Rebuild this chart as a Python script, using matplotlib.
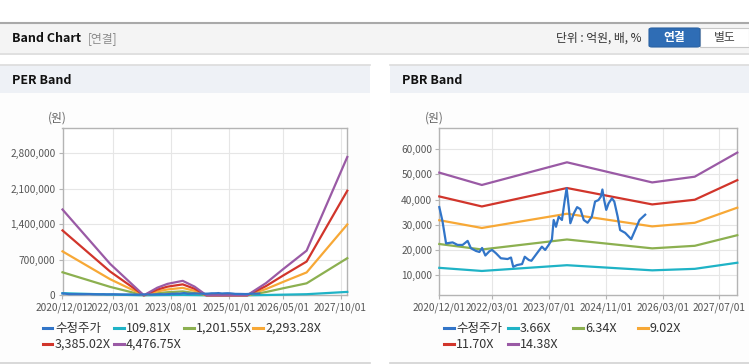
import matplotlib
matplotlib.use("Agg")
import matplotlib.pyplot as plt
import matplotlib.dates as mdates
from matplotlib.patches import Rectangle, FancyBboxPatch
from matplotlib.lines import Line2D
from matplotlib.ticker import FuncFormatter
import pandas as pd

plt.rcParams["font.family"] = ["Noto Sans CJK KR", "DejaVu Sans"]

W, H = 749, 364

# ---- data ----
price_dates = [
    "2020-12-01", "2020-12-28", "2021-01-28", "2021-03-25", "2021-05-07", "2021-06-19",
    "2021-08-01", "2021-08-29", "2021-10-12", "2021-11-10", "2021-12-03", "2021-12-31",
    "2022-02-04", "2022-02-27", "2022-04-01", "2022-05-13", "2022-07-10", "2022-08-08",
    "2022-08-27", "2022-09-28", "2022-11-11", "2022-12-04", "2023-01-08", "2023-01-30",
    "2023-03-18", "2023-04-30", "2023-05-28", "2023-06-27", "2023-07-25", "2023-08-09",
    "2023-08-29", "2023-09-21", "2023-10-19", "2023-11-12", "2023-11-28", "2023-12-16",
    "2023-12-30", "2024-01-29", "2024-02-26", "2024-03-25", "2024-04-23", "2024-05-26",
    "2024-07-01", "2024-07-29", "2024-08-27", "2024-09-17", "2024-09-30", "2024-10-15",
    "2024-11-02", "2024-11-22", "2024-12-21", "2025-01-10", "2025-02-08", "2025-03-01",
    "2025-04-13", "2025-06-04", "2025-07-08", "2025-08-14", "2025-10-02",
]
price = [
    37000, 31500, 22600, 23000, 22000, 22000,
    23600, 20700, 19600, 19200, 20800, 17800,
    19500, 20000, 18700, 16700, 16400, 17000,
    13300, 14000, 14400, 17300, 16000, 15700,
    18650, 21300, 20000, 22000, 24200, 31900,
    29200, 33200, 31900, 39800, 44500, 37200,
    30600, 34500, 37000, 36200, 31900, 30800,
    33200, 39200, 39800, 41200, 44000, 39800,
    35900, 38500, 40500, 39200, 33200, 27900,
    26800, 24300, 27900, 31900, 34000,
]

per_dates = ["2020-12-01", "2022-02-01", "2022-12-01", "2023-04-01", "2023-07-01",
             "2023-11-15", "2024-03-01", "2024-06-15", "2025-06-15", "2025-12-01",
             "2026-05-01", "2026-12-01", "2027-06-01", "2027-12-01"]
per_109 = [41500, 15200, 0, 3700, 5500, 7000, 4200, 0, 0, 5900, 12500, 21600, 44200, 66800]
per_1201 = [453600, 166400, 0, 40300, 60400, 76500, 45700, 0, 0, 64400, 136900, 236200,
            483100, 731400]
per_2293 = [865700, 317600, 0, 76800, 115400, 146100, 87100, 0, 0, 122900, 261200, 450900,
            922100, 1395900]
per_3385 = [1277800, 468800, 0, 113400, 170300, 215600, 128600, 0, 0, 181400, 385600,
            665500, 1361100, 2060400]
per_4476 = [1690000, 620000, 0, 150000, 225000, 285000, 170000, 0, 0, 240000, 510000,
            880000, 1800000, 2725000]
per_labels = ["수정주가", "109.81X", "1,201.55X", "2,293.28X", "3,385.02X", "4,476.75X"]
per_ticks = ["2020-12-01", "2022-03-01", "2023-08-01", "2025-01-01", "2026-05-01", "2027-10-01"]

pbr_dates = ["2020-12-01", "2021-12-01", "2023-12-01", "2025-12-01", "2026-12-01", "2027-12-01"]
pbr_366 = [12900, 11660, 13950, 11910, 12500, 14930]
pbr_634 = [22360, 20190, 24160, 20640, 21650, 25860]
pbr_902 = [31810, 28730, 34380, 29360, 30790, 36790]
pbr_1170 = [41250, 37270, 44590, 38080, 39940, 47720]
pbr_1438 = [50700, 45800, 54800, 46810, 49090, 58660]
pbr_labels = ["수정주가", "3.66X", "6.34X", "9.02X", "11.70X", "14.38X"]
pbr_ticks = ["2020-12-01", "2022-03-01", "2023-07-01", "2024-11-01", "2026-03-01", "2027-07-01"]

colors = ["#3275c8", "#1fb3c6", "#8cb050", "#f7a836", "#d1352b", "#9a5aa5"]


def fx(x):
    return x / W


def fy(y):
    return 1 - y / H


fig = plt.figure(figsize=(W / 100, H / 100), dpi=100)
fig.patch.set_facecolor("white")


def rect(x0, y0, x1, y1, **kw):
    fig.patches.append(Rectangle((fx(x0), fy(y1)), fx(x1 - x0), (y1 - y0) / H,
                                 transform=fig.transFigure, zorder=-10, **kw))


def hline(x0, x1, y, color, lw=1.0):
    fig.add_artist(Line2D([fx(x0), fx(x1)], [fy(y), fy(y)], color=color, lw=lw,
                          transform=fig.transFigure, zorder=-5))


# ---- header bar ----
rect(0, 22, W, 53, fc="#f4f4f4", ec="none")
hline(0, W, 22.5, "#a9a9a9", 1.5)
hline(0, W, 53.5, "#dadada", 1.2)
fig.text(fx(11.5), fy(38.5), "Band Chart", fontsize=9, fontweight="bold", color="#111",
         va="center", ha="left")
fig.text(fx(88), fy(38.5), "[연결]", fontsize=8.5, color="#8a8a8a", va="center", ha="left")
fig.text(fx(642), fy(38.5), "단위 : 억원, 배, %", fontsize=8.5, color="#333", va="center",
         ha="right")
fig.patches.append(FancyBboxPatch((fx(700), fy(47)), fx(49), 19 / H,
                                  boxstyle="square,pad=0", transform=fig.transFigure,
                                  fc="white", ec="#c8c8c8", lw=0.8, zorder=-4))
fig.patches.append(FancyBboxPatch((fx(649), fy(47)), fx(51), 19 / H,
                                  boxstyle="round,pad=0,rounding_size=0.004",
                                  transform=fig.transFigure, fc="#2f6db5", ec="#2a62a3",
                                  lw=0.8, zorder=-3))
fig.text(fx(674.5), fy(37.8), "연결", fontsize=8.5, fontweight="bold", color="white",
         va="center", ha="center")
fig.text(fx(724.5), fy(37.8), "별도", fontsize=8.5, color="#444", va="center", ha="center")

# ---- panels ----
for px0, px1, title in [(0, 370, "PER Band"), (390, 749, "PBR Band")]:
    rect(px0, 64, px1, 363, fc="#fdfdfd", ec="none")
    rect(px0, 65, px1, 93, fc="#eef1f6", ec="none")
    hline(px0, px1, 64.5, "#dcdcdc", 1.2)
    hline(px0, px1, 362.5, "#d2d2d2", 1.2)
    fig.text(fx(px0 + 11.7), fy(80.5), title, fontsize=9, fontweight="bold", color="#111",
             va="center", ha="left")


def setup_axes(left, right, ylim, yticks, tick_dates):
    ax = fig.add_axes([fx(left), fy(295.3), fx(right - left), (295.3 - 128.3) / H])
    ax.set_facecolor("white")
    for s in ax.spines.values():
        s.set_color("#b4b4b4")
        s.set_linewidth(1.0)
    ax.set_ylim(*ylim)
    ax.set_yticks(yticks)
    ax.yaxis.set_major_formatter(FuncFormatter(lambda v, p: f"{v:,.0f}"))
    ax.set_xlim(pd.Timestamp("2020-12-01"), pd.Timestamp("2027-12-01"))
    ax.set_xticks(pd.to_datetime(tick_dates))
    ax.xaxis.set_major_formatter(mdates.DateFormatter("%Y/%m/%d"))
    ax.grid(True, color="#e6e6e6", lw=0.8)
    ax.set_axisbelow(True)
    ax.tick_params(axis="both", colors="#b4b4b4", labelcolor="#555", labelsize=7.3,
                   length=3, width=0.8, pad=2)
    return ax


def draw(ax, dates, bands):
    d = pd.to_datetime(dates)
    for vals, c in zip(bands, colors[1:]):
        ax.plot(d, vals, color=c, lw=1.6, clip_on=False, zorder=3)
    ax.plot(pd.to_datetime(price_dates), price, color=colors[0], lw=1.6, clip_on=False,
            zorder=4)


def legend(xs_text, labels):
    rows = [328.3, 344.3]
    for i, (lab, c) in enumerate(zip(labels, colors)):
        r, col = divmod(i, 4)
        xt = xs_text[col]
        y = rows[r]
        fig.add_artist(Line2D([fx(xt - 12.5), fx(xt - 2.5)], [fy(y), fy(y)], color=c,
                              lw=2.2, transform=fig.transFigure))
        fig.text(fx(xt), fy(y), lab, fontsize=9, color="#333", va="center", ha="left")


ax1 = setup_axes(62.5, 347.3, (0, 3290000), [0, 700000, 1400000, 2100000, 2800000], per_ticks)
draw(ax1, per_dates, [per_109, per_1201, per_2293, per_3385, per_4476])
fig.text(fx(57.5), fy(118.3), "(원)", fontsize=8.5, color="#666", va="center", ha="center")
legend([55, 126, 196, 265.7], per_labels)

ax2 = setup_axes(439.3, 737.3, (2000, 68300), [10000, 20000, 30000, 40000, 50000, 60000],
                 pbr_ticks)
draw(ax2, pbr_dates, [pbr_366, pbr_634, pbr_902, pbr_1170, pbr_1438])
fig.text(fx(434), fy(118.3), "(원)", fontsize=8.5, color="#666", va="center", ha="center")
legend([456, 520, 585, 650], pbr_labels)

fig.savefig("out.png", dpi=100)
